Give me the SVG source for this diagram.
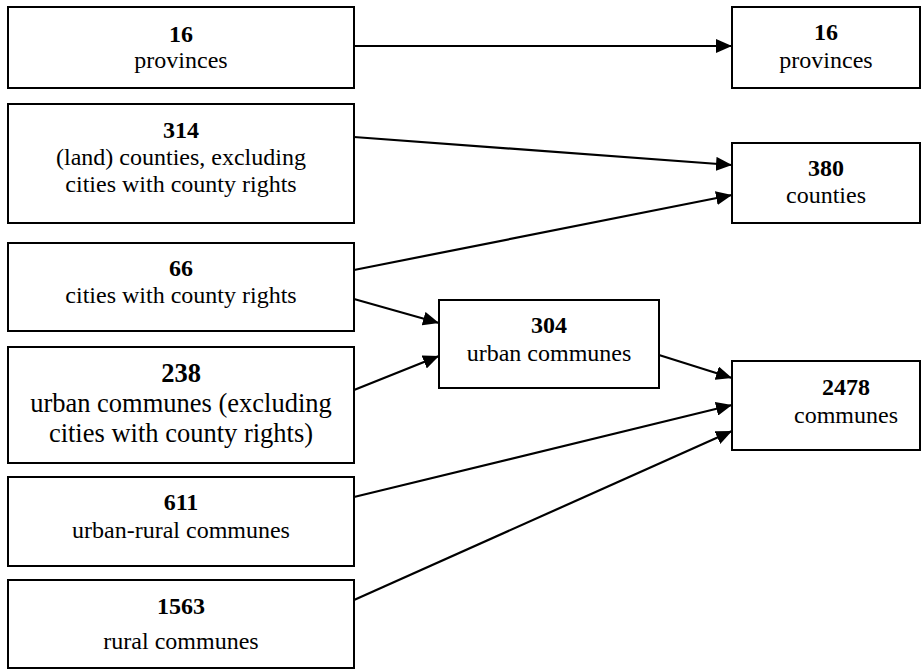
<svg xmlns="http://www.w3.org/2000/svg" width="921" height="669" viewBox="0 0 921 669">
<defs>
<marker id="arr" markerUnits="userSpaceOnUse" markerWidth="17" markerHeight="14" refX="16" refY="7" orient="auto">
<path d="M0,0 L16,7 L0,14 z" fill="#000"/>
</marker>
<style>
rect{fill:#fff;stroke:#000;stroke-width:2}
text{font-family:"Liberation Serif","Times New Roman",serif;font-size:24px;fill:#000;text-anchor:middle}
.b{font-weight:bold}
.big{font-size:26.5px}
.c line{stroke:#000;stroke-width:2.2;marker-end:url(#arr)}
</style>
</defs>
<rect x="0" y="0" width="921" height="669" style="stroke:none;fill:#fff"/>
<g id="n16l"><rect x="8" y="7" width="346" height="81"/><text x="181" y="42" class="b">16</text><text x="181" y="68">provinces</text></g>
<g id="n314"><rect x="8" y="104" width="346" height="119"/><text x="181" y="138" class="b">314</text><text x="181" y="165">(land) counties, excluding</text><text x="181" y="192">cities with county rights</text></g>
<g id="n66"><rect x="8" y="243" width="346" height="88"/><text x="181" y="276" class="b">66</text><text x="181" y="303">cities with county rights</text></g>
<g id="n238"><rect x="8" y="347" width="346" height="116"/><text x="181" y="382" class="b big">238</text><text x="181" y="412" class="big">urban communes (excluding</text><text x="181" y="442" class="big">cities with county rights)</text></g>
<g id="n611"><rect x="8" y="477" width="346" height="89"/><text x="181" y="510" class="b">611</text><text x="181" y="538">urban-rural communes</text></g>
<g id="n1563"><rect x="8" y="580" width="346" height="88"/><text x="181" y="614" class="b">1563</text><text x="181" y="649">rural communes</text></g>
<g id="n304"><rect x="439" y="300" width="220" height="88"/><text x="549" y="333" class="b">304</text><text x="549" y="361">urban communes</text></g>
<g id="n16r"><rect x="732" y="7" width="188" height="81"/><text x="826" y="40" class="b">16</text><text x="826" y="68">provinces</text></g>
<g id="n380"><rect x="732" y="143" width="188" height="80"/><text x="826" y="176" class="b">380</text><text x="826" y="203">counties</text></g>
<g id="n2478"><rect x="732" y="361" width="188" height="89"/><text x="846" y="395" class="b">2478</text><text x="846" y="423">communes</text></g>
<g id="connectors" class="c">
<line x1="354" y1="46" x2="732" y2="46"/>
<line x1="354" y1="137" x2="732" y2="165"/>
<line x1="354" y1="270" x2="732" y2="195"/>
<line x1="354" y1="299" x2="439" y2="323"/>
<line x1="354" y1="390" x2="439" y2="356"/>
<line x1="659" y1="355" x2="732" y2="378"/>
<line x1="354" y1="497" x2="732" y2="405"/>
<line x1="354" y1="600" x2="732" y2="431"/>
</g>
</svg>
